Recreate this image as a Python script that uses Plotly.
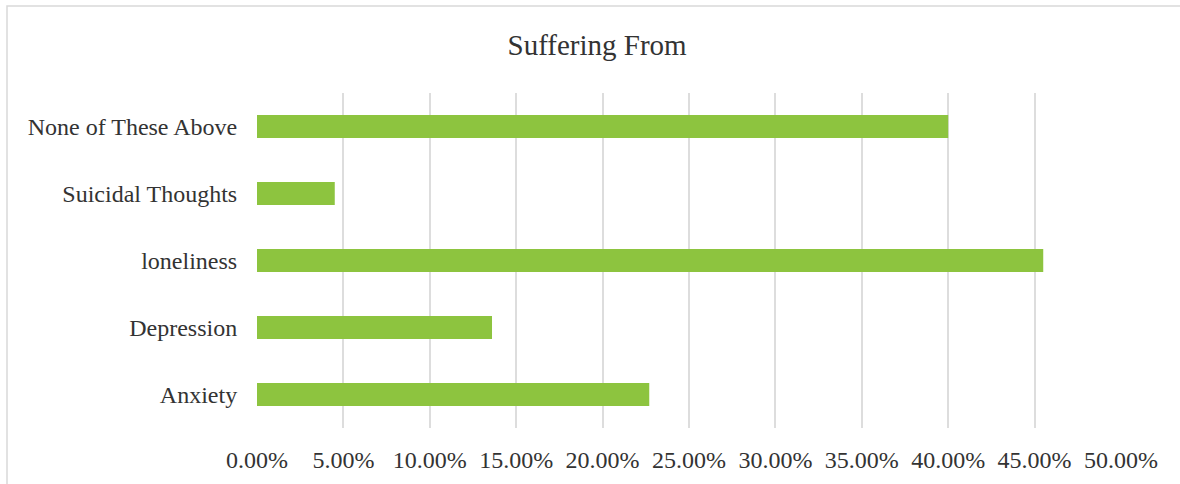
import plotly.graph_objects as go

# data
categories = ["Anxiety", "Depression", "loneliness", "Suicidal Thoughts", "None of These Above"]
values = [0.227, 0.136, 0.455, 0.045, 0.400]
tick_vals = [i * 0.05 for i in range(11)]
tick_text = [f"{v * 100:.2f}%" for v in tick_vals]

fig = go.Figure()
fig.add_trace(go.Bar(
    y=categories, x=values, orientation="h",
    marker=dict(color="#8DC43F", line=dict(width=0)),
))

fig.update_layout(
    width=1180, height=484,
    paper_bgcolor="white", plot_bgcolor="white",
    margin=dict(l=257, r=59, t=93, b=56),
    bargap=0.66,
    showlegend=False,
    font=dict(family="Liberation Serif, Times New Roman, serif", color="#333333", size=24),
    title=dict(text="Suffering From", x=0.506, xanchor="center", y=0.907, yanchor="middle",
               font=dict(size=29, color="#333333")),
    xaxis=dict(range=[0, 0.5], tickvals=tick_vals, ticktext=tick_text,
               showgrid=True, gridcolor="#DDDDDD", gridwidth=2,
               zeroline=False, showline=False,
               ticks="outside", ticklen=10, tickcolor="rgba(0,0,0,0)"),
    yaxis=dict(showgrid=False, zeroline=False, showline=False,
               ticks="outside", ticklen=14, tickcolor="rgba(0,0,0,0)"),
    shapes=[dict(type="rect", xref="paper", yref="paper",
                 x0=(7 - 257) / 864, x1=1.2, y0=-0.3, y1=(428 - 6) / 335,
                 line=dict(color="#D9D9D9", width=1.5), fillcolor="rgba(0,0,0,0)",
                 layer="below")],
)

fig.write_html("out.html", config={"displayModeBar": False},
               post_script="document.body.style.margin='0px';")
